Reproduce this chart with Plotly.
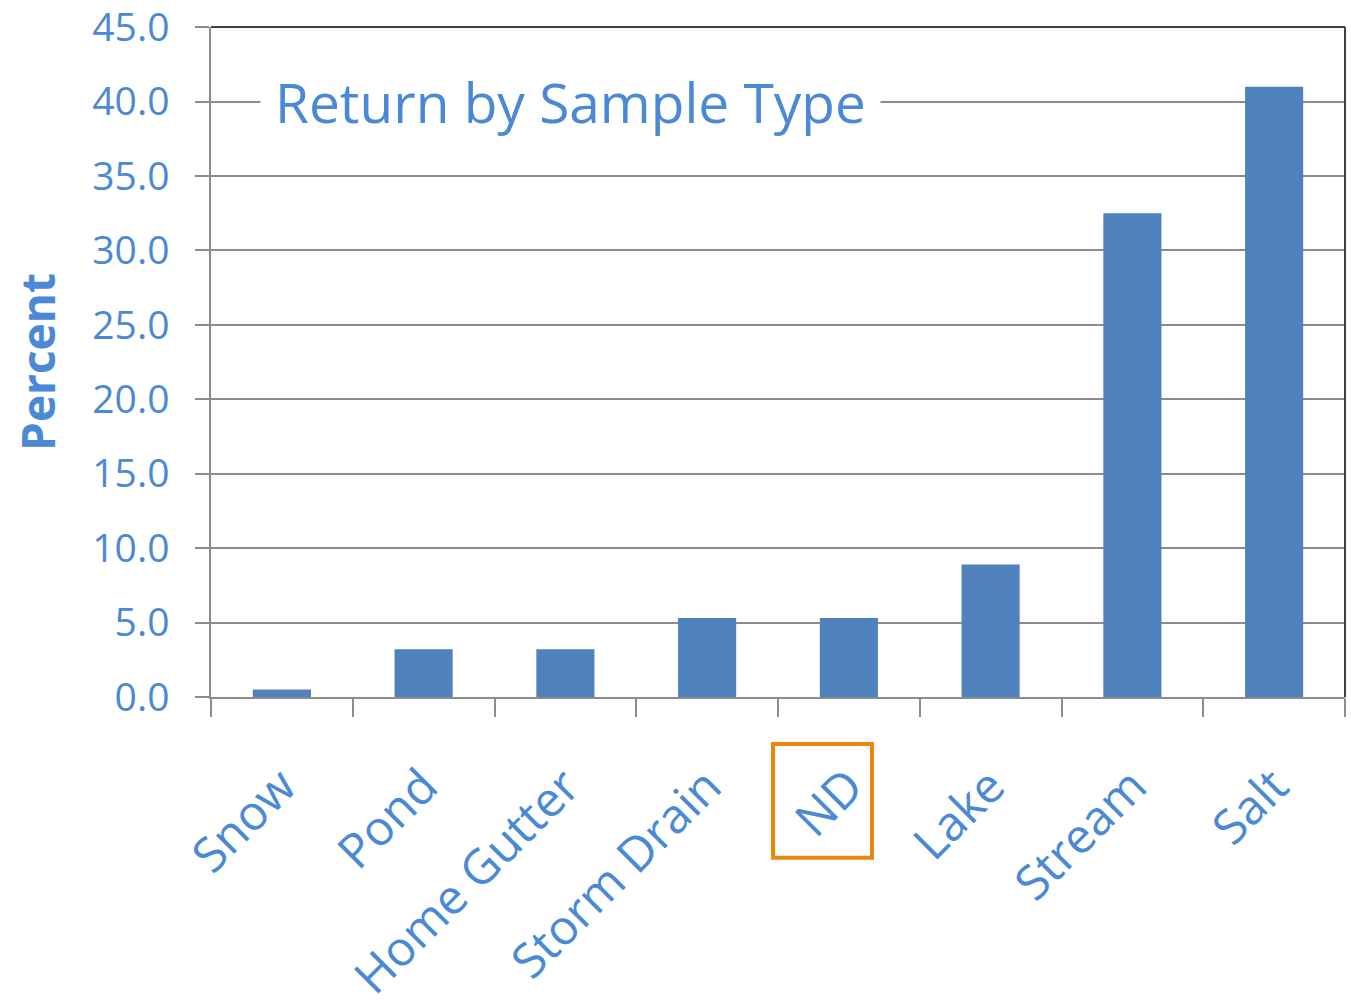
import plotly.graph_objects as go

categories = ["Snow", "Pond", "Home Gutter", "Storm Drain", "ND", "Lake", "Stream", "Salt"]
percent = [0.5, 3.2, 3.2, 5.3, 5.3, 8.9, 32.5, 41.0]
y_ticks = [0, 5, 10, 15, 20, 25, 30, 35, 40, 45]
highlight = "ND"

text_blue = "#4A89D6"
bar_blue = "#4F81BD"
grid_gray = "#8C8C8C"
font_family = "Open Sans, Noto Sans, sans-serif"

fig = go.Figure(go.Bar(x=categories, y=percent, marker=dict(color=bar_blue, line=dict(width=0))))

fig.update_layout(
    width=1351, height=1001,
    margin=dict(l=211, r=6, t=27, b=304, autoexpand=False),
    paper_bgcolor="white", plot_bgcolor="white",
    bargap=0.59,
    showlegend=False,
    font=dict(family=font_family, color=text_blue),
)

fig.update_yaxes(
    automargin=False,
    range=[0, 45.01], tickvals=y_ticks, tickformat=".1f",
    ticklabeloverflow="allow",
    showgrid=True, gridcolor=grid_gray, gridwidth=1.5,
    zeroline=False,
    showline=True, linecolor=grid_gray, linewidth=1.5,
    ticks="outside", ticklen=14, tickcolor=grid_gray, tickwidth=1.5,
    tickfont=dict(size=39, color=text_blue),
    ticklabelstandoff=18,
    title=dict(text="<b>Percent</b>", font=dict(size=46, color=text_blue), standoff=22),
)

fig.update_xaxes(
    automargin=False,
    ticklabeloverflow="allow",
    showline=True, linecolor=grid_gray, linewidth=1.5,
    ticks="outside", ticklen=18, tickcolor=grid_gray, tickwidth=1.5,
    tickson="boundaries",
    tickangle=-45,
    tickfont=dict(size=48, color=text_blue),
    ticklabelstandoff=40,
)

# dark top and right frame
fig.add_shape(type="line", xref="paper", yref="paper", x0=0, x1=1, y0=1, y1=1,
              line=dict(color="#404040", width=2))
fig.add_shape(type="line", xref="paper", yref="paper", x0=1, x1=1, y0=0, y1=1,
              line=dict(color="#404040", width=2))

# title inside the plot, masking the gridline
fig.add_annotation(
    text="Return by Sample Type", xref="paper", yref="y",
    x=0.3166, y=40, xanchor="center", yanchor="middle", showarrow=False,
    font=dict(size=55, color=text_blue, family=font_family),
    bgcolor="white", borderpad=14,
)

# highlight box around ND label
idx = categories.index(highlight)
fig.add_shape(type="rect", xref="x", yref="paper",
              x0=idx - 0.535, x1=idx + 0.163, y0=-0.240, y1=-0.070,
              line=dict(color="#E8870E", width=4))

post = """
document.body.style.margin='0';
document.body.style.padding='0';
document.body.style.overflow='hidden';
var gd = document.getElementById('{plot_id}');
Plotly.relayout(gd, {width: 1351, height: 1001});
"""

fig.write_html("out.html", post_script=post, config={"displayModeBar": False})
